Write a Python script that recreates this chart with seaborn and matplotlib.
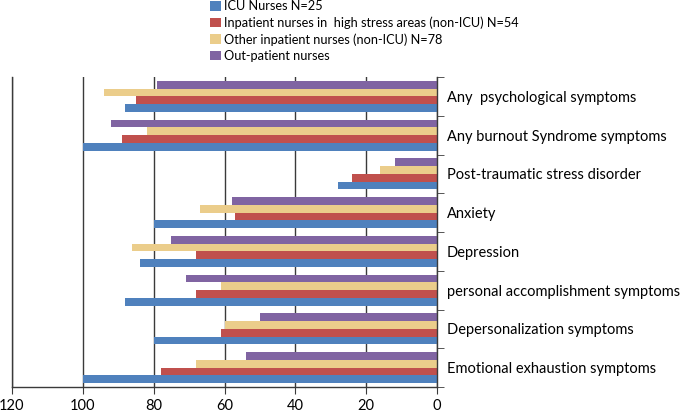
import numpy as np
import pandas as pd
import seaborn as sns
import matplotlib.pyplot as plt
from matplotlib.patches import Patch

# data (% of nurses)
categories = [
    'Any  psychological symptoms',
    'Any burnout Syndrome symptoms',
    'Post-traumatic stress disorder',
    'Anxiety',
    'Depression',
    'personal accomplishment symptoms',
    'Depersonalization symptoms',
    'Emotional exhaustion symptoms',
]
icu = [88, 100, 28, 80, 84, 88, 80, 100]
inpatient_high = [85, 89, 24, 57, 68, 68, 61, 78]
other_inpatient = [94, 82, 16, 67, 86, 61, 60, 68]
outpatient = [79, 92, 12, 58, 75, 71, 50, 54]

groups = [
    'ICU Nurses N=25',
    'Inpatient nurses in  high stress areas (non-ICU) N=54',
    'Other inpatient nurses (non-ICU) N=78',
    'Out-patient nurses',
]
colors = ['#4F81BD', '#C0504D', '#EBCD8B', '#8064A2']

# long table for seaborn
rows = []
for g, vals in zip(groups, [icu, inpatient_high, other_inpatient, outpatient]):
    for c, v in zip(categories, vals):
        rows.append({'category': c, 'value': v, 'group': g})
df = pd.DataFrame(rows)

plt.rcParams['font.family'] = ['Lato', 'DejaVu Sans']

fig = plt.figure(figsize=(6.85, 4.13), dpi=100)
ax = fig.add_axes([12 / 685, 26 / 413, 425 / 685, 310 / 413])

# hue order reversed so the purple bar sits on top in each group
sns.barplot(data=df, x='value', y='category', hue='group', order=categories,
            hue_order=groups[::-1], palette=colors[::-1], orient='h',
            width=0.8, saturation=1, legend=False, ax=ax, zorder=2)

ax.set_xlim(120, 0)
ax.set_ylim(7.5, -0.5)
ax.set_xticks(range(0, 121, 20))
ax.set_xlabel('')
ax.set_ylabel('')

ax.set_axisbelow(True)
ax.xaxis.grid(True, color='#3a3a3a', linewidth=1)
ax.yaxis.grid(False)

ax.yaxis.tick_right()
ax.set_yticks(range(len(categories)))
ax.set_yticklabels(categories)
ax.set_yticks(np.arange(-0.5, len(categories), 1), minor=True)
ax.tick_params(axis='y', which='major', length=0, pad=7, labelsize=10.5)
ax.tick_params(axis='y', which='minor', length=5, direction='out', color='#3a3a3a',
               right=True, left=False)
ax.tick_params(axis='x', length=5, direction='out', color='#3a3a3a', labelsize=10.5, pad=4)

for side in ['left', 'right', 'bottom']:
    ax.spines[side].set_color('#3a3a3a')
    ax.spines[side].set_linewidth(1)
ax.spines['top'].set_visible(False)

handles = [Patch(facecolor=c, edgecolor='none') for c in colors]
fig.legend(handles, groups, loc='upper left', bbox_to_anchor=(205 / 685, 1.012),
           frameon=False, fontsize=9.2, handlelength=0.86, handleheight=0.8,
           handletextpad=0.25, labelspacing=0.33, borderaxespad=0)

plt.savefig('out.png', dpi=100)
